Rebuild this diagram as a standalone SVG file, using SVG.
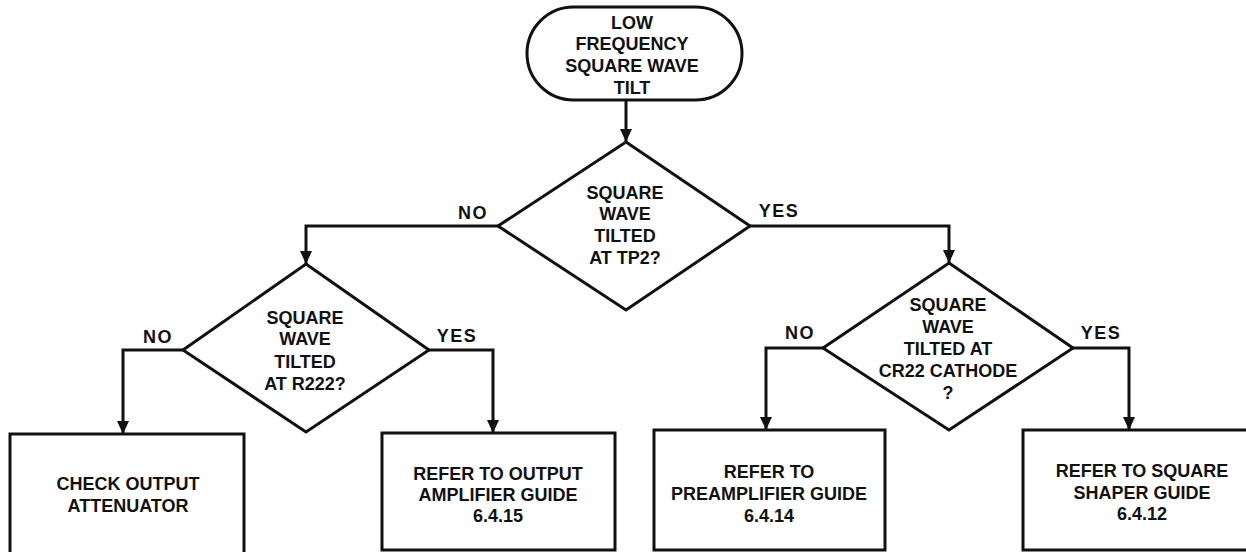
<svg xmlns="http://www.w3.org/2000/svg" width="1246" height="552" viewBox="0 0 1246 552">
<style>
.shape{fill:#fff;stroke:#111;stroke-width:3;stroke-linejoin:miter}
.conn{fill:none;stroke:#111;stroke-width:3;marker-end:url(#arr)}
text{font-family:"Liberation Sans",Arial,sans-serif;font-weight:bold;font-size:18px;fill:#111;text-anchor:middle}
.lbl{letter-spacing:1.5px}
</style>
<defs>
<marker id="arr" markerUnits="userSpaceOnUse" markerWidth="13" markerHeight="12" refX="13" refY="6" orient="auto">
<path d="M0,0 L13,6 L0,12 z" fill="#111"/>
</marker>
</defs>
<rect width="1246" height="552" fill="#fff"/>
<g id="connectors">
<path class="conn" d="M626,100 V142"/>
<path class="conn" d="M498,226 H306 V264"/>
<path class="conn" d="M750,226 H949 V263"/>
<path class="conn" d="M183,350 H123 V434"/>
<path class="conn" d="M429,350 H493 V433"/>
<path class="conn" d="M823,348 H766 V430"/>
<path class="conn" d="M1073,348 H1129 V430"/>
<text class="lbl" x="473" y="218.5">NO</text>
<text class="lbl" x="779" y="216.5">YES</text>
<text class="lbl" x="158" y="342.5">NO</text>
<text class="lbl" x="457" y="341.5">YES</text>
<text class="lbl" x="800" y="338.5">NO</text>
<text class="lbl" x="1101" y="338.5">YES</text>
</g>
<g id="start">
<rect class="shape" x="527" y="7" width="215" height="93" rx="46.5"/>
<text x="632" y="28.5">LOW</text>
<text x="632" y="49.5">FREQUENCY</text>
<text x="632" y="71.5">SQUARE WAVE</text>
<text x="632" y="93.5">TILT</text>
</g>
<g id="decision1">
<polygon class="shape" points="626,142 750,226 626,310 498,226"/>
<text x="625" y="198.5">SQUARE</text>
<text x="625" y="219.5">WAVE</text>
<text x="625" y="241.5">TILTED</text>
<text x="625" y="263.5">AT TP2?</text>
</g>
<g id="decision2">
<polygon class="shape" points="306,264 429,350 306,432 183,350"/>
<text x="305" y="323.5">SQUARE</text>
<text x="305" y="344.5">WAVE</text>
<text x="305" y="367.5">TILTED</text>
<text x="305" y="389.5">AT R222?</text>
</g>
<g id="decision3">
<polygon class="shape" points="949,263 1073,348 949,430 823,348"/>
<text x="948" y="310.5">SQUARE</text>
<text x="948" y="332.5">WAVE</text>
<text x="948" y="354.5">TILTED AT</text>
<text x="948" y="376.5">CR22 CATHODE</text>
<text x="948" y="398.5">?</text>
</g>
<g id="box1">
<rect class="shape" x="10" y="434" width="234" height="121"/>
<text x="128" y="489.5">CHECK OUTPUT</text>
<text x="128" y="511.5">ATTENUATOR</text>
</g>
<g id="box2">
<rect class="shape" x="382" y="433" width="233" height="117"/>
<text x="498" y="479.5">REFER TO OUTPUT</text>
<text x="498" y="500.5">AMPLIFIER GUIDE</text>
<text x="498" y="521.5">6.4.15</text>
</g>
<g id="box3">
<rect class="shape" x="654" y="430" width="231" height="120"/>
<text x="769" y="477.5">REFER TO</text>
<text x="769" y="499.5">PREAMPLIFIER GUIDE</text>
<text x="769" y="521.5">6.4.14</text>
</g>
<g id="box4">
<rect class="shape" x="1023" y="430" width="240" height="120"/>
<text x="1142" y="476.5">REFER TO SQUARE</text>
<text x="1142" y="498.5">SHAPER GUIDE</text>
<text x="1142" y="519.5">6.4.12</text>
</g>
</svg>
